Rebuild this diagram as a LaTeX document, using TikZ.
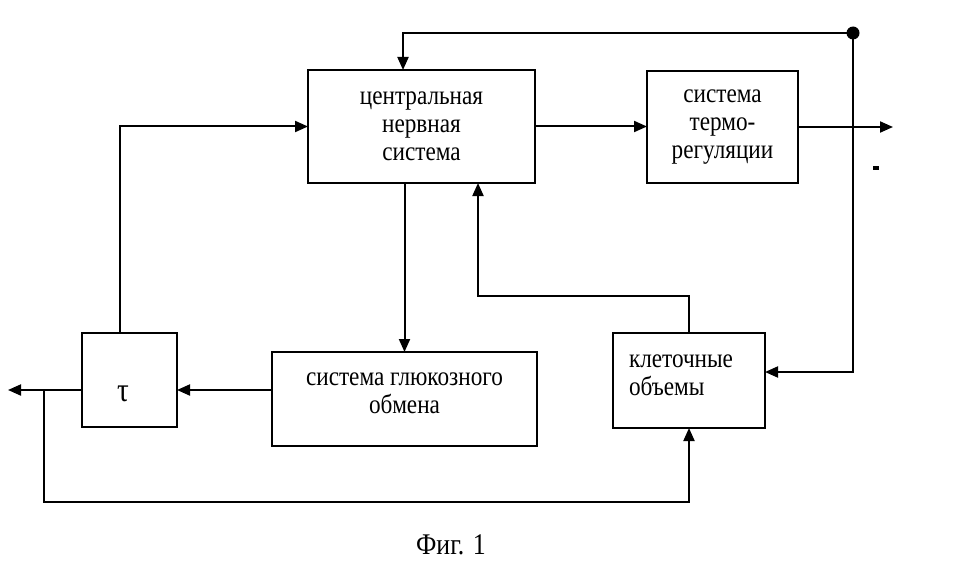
\documentclass[tikz,border=0pt]{standalone}
\usepackage{fontspec}
\setmainfont{Liberation Serif}[FakeStretch=0.86]
\usetikzlibrary{arrows.meta}

\tikzset{
  block/.style={draw, line width=2pt, inner sep=0pt, outer sep=0pt, align=center,
    font=\fontsize{27}{28}\selectfont},
  txt/.style={inner sep=0pt, align=center, font=\fontsize{27}{28}\selectfont},
  arr/.style={line width=2pt, -{Triangle[length=13pt,width=11pt]}}
}

\begin{document}
\begin{tikzpicture}[x=1pt, y=-1pt]
\useasboundingbox (0,0) rectangle (964,575);

\def\yin{390};
\def\ybot{502};
\def\ytop{33};

% boxes
\node[block, minimum width=227pt, minimum height=113pt] (cns) at (421.5,126.5) {центральная\\нервная\\система};
\node[block, minimum width=151pt, minimum height=112pt] (thermo) at (722.5,127) {система\\термо-\\регуляции};
\node[block, minimum width=95pt, minimum height=94pt,
  label={[txt, font=\fontsize{34}{34}\selectfont, xshift=-6.5pt, yshift=-14pt]center:τ}] (tau) at (129.5,380) {};
\node[block, minimum width=265pt, minimum height=94pt,
  label={[txt, yshift=6pt]center:система глюкозного\\обмена}] (gluc) at (404.5,399) {};
\node[block, minimum width=152pt, minimum height=95pt,
  label={[txt, text width=120pt, align=left, yshift=5pt]center:клеточные\\объемы}] (klet) at (689,380.5) {};

\node[font=\fontsize{30}{30}\selectfont] (cap) at (451,545) {Фиг. 1};

% points of the wires
\coordinate (jL) at (44,\yin);
\coordinate (outL) at (8,\yin);
\coordinate (jB) at (44,\ybot);
\coordinate (dot) at (853,\ytop);
\coordinate (topL) at (403,\ytop);
\coordinate (fb) at (478,296);
\coordinate (outR) at (893,127);

% wires
\draw[arr] ([xshift=-9.5pt]tau.north) |- (cns.west);
\draw[arr] (cns.east) -- (cns.east -| thermo.west);
\draw[arr] (thermo.east |- outR) -- (outR);
\draw[arr] (dot) -- (topL) -- (topL |- cns.north);
\draw[arr] (dot) |- ([yshift=8.5pt]klet.east);
\fill (dot) circle (6.5pt);
\draw[arr] (gluc.north |- cns.south) -- (gluc.north);
\draw[arr] (gluc.west |- jL) -- (tau.east |- jL);
\draw[arr] (tau.west |- jL) -- (outL);
\draw[arr] (jL) -- (jB) -| (klet.south);
\draw[arr] (klet.north) |- (fb) -- (fb |- cns.south);

% stray mark
\fill (873,166) rectangle (879,170);

\end{tikzpicture}
\end{document}
